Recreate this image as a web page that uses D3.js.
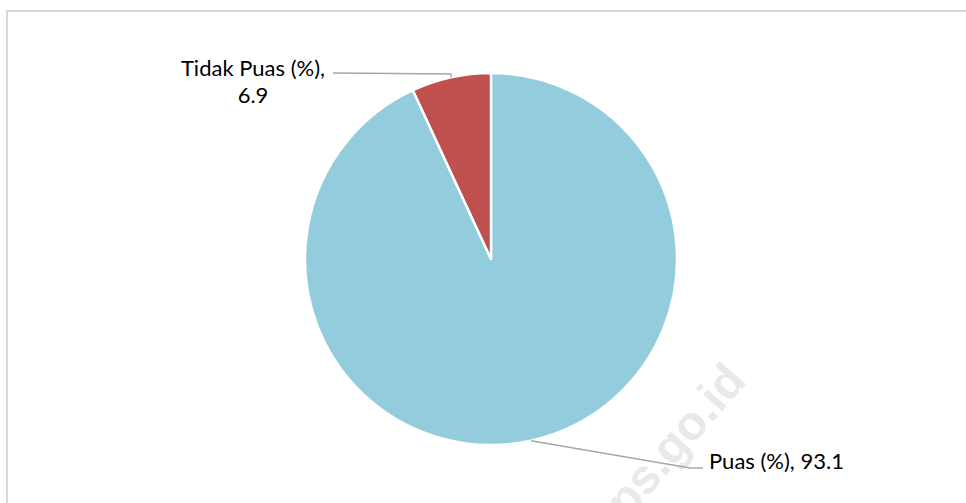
<!DOCTYPE html>
<html>
<head>
<meta charset="utf-8">
<script src="https://cdn.jsdelivr.net/npm/d3@7"></script>
<style>
  html, body { margin: 0; padding: 0; background: #fff; }
  svg { display: block; }
</style>
</head>
<body>
<svg id="chart" width="966" height="503"></svg>
<script>
// Chart data
const categories = ["Puas (%)", "Tidak Puas (%)"];
const values = [93.1, 6.9];
const colors = ["#93CDDD", "#C0504D"];

const W = 966, H = 503;
const cx = 491, cy = 259, radius = 186;

const svg = d3.select("#chart");

// chart area border
svg.append("rect")
    .attr("x", 7).attr("y", 11)
    .attr("width", 966).attr("height", 520)
    .attr("fill", "none")
    .attr("stroke", "#d9d9d9")
    .attr("stroke-width", 2);

// watermark
svg.append("text")
    .attr("transform", "translate(678,462) rotate(-49)")
    .attr("text-anchor", "middle")
    .style("font-family", "'Liberation Sans', Arial, sans-serif")
    .style("font-weight", "bold")
    .style("font-size", "48px")
    .style("fill", "#e9e9e9")
    .text("bps.go.id");

const data = categories.map((c, i) => ({ name: c, value: values[i], color: colors[i] }));

const pie = d3.pie().sort(null).value(d => d.value);
const arc = d3.arc().innerRadius(0).outerRadius(radius);
const arcs = pie(data);

const g = svg.append("g").attr("transform", `translate(${cx},${cy})`);

g.selectAll("path")
    .data(arcs)
    .enter().append("path")
    .attr("d", arc)
    .attr("fill", d => d.data.color)
    .attr("stroke", "#fff")
    .attr("stroke-width", 2.5)
    .attr("stroke-linejoin", "round");

// leader lines + labels
const pointOn = (a, r) => [r * Math.sin(a), -r * Math.cos(a)];
const labelLayout = [
    { elbow: [199, 209], end: [212, 209], anchor: "start", tx: 218, ty: 210, lines: d => [`${d.data.name}, ${d.data.value}`] },
    { elbow: [-40, -185], end: [-158, -186], anchor: "middle", tx: -238, ty: -183, lines: d => [`${d.data.name},`, `${d.data.value}`] }
];

const fontFam = "Lato, 'Open Sans', sans-serif";

arcs.forEach((d, i) => {
    const L = labelLayout[i];
    const mid = (d.startAngle + d.endAngle) / 2;
    const p0 = pointOn(mid, radius);
    g.append("polyline")
        .attr("points", [p0, L.elbow, L.end].map(p => p.join(",")).join(" "))
        .attr("fill", "none")
        .attr("stroke", "#a6a6a6")
        .attr("stroke-width", 1.5);

    const t = g.append("text")
        .attr("text-anchor", L.anchor)
        .style("font-family", fontFam)
        .style("font-size", "22px")
        .style("fill", "#000");
    L.lines(d).forEach((ln, k) => {
        t.append("tspan")
            .attr("x", L.tx)
            .attr("y", L.ty + k * 27)
            .text(ln);
    });
});
</script>
</body>
</html>
